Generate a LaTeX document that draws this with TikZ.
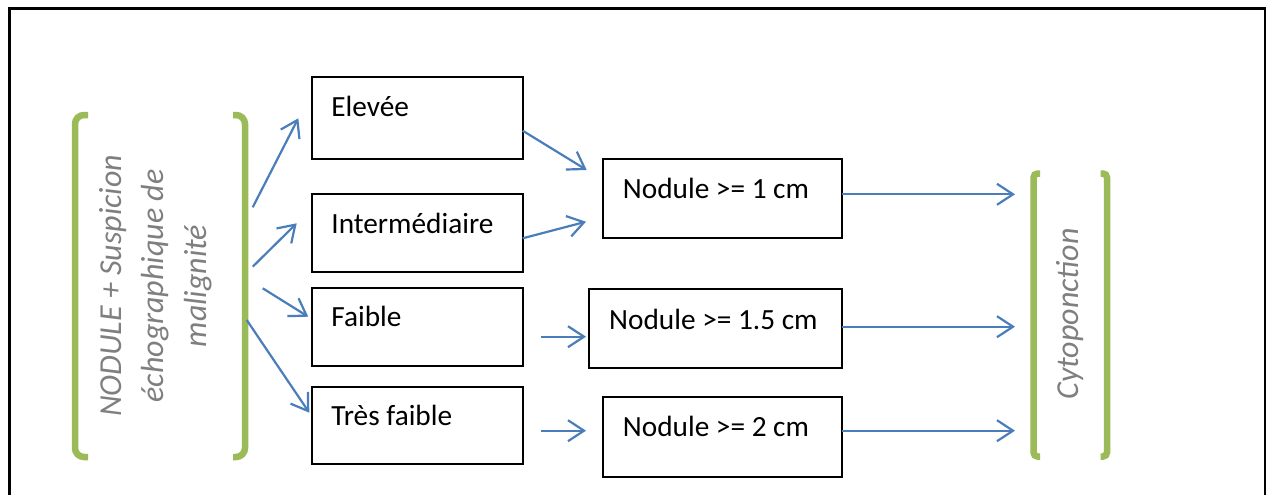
\documentclass[tikz,border=0pt]{standalone}
\usepackage{fontspec}
\setmainfont{Carlito}
\usetikzlibrary{arrows.meta}
\definecolor{ogreen}{HTML}{9BBB59}
\definecolor{oblue}{HTML}{4A7EBB}
\definecolor{ogray}{HTML}{7F7F7F}
\begin{document}
\begin{tikzpicture}[x=1pt,y=-1pt,
  box/.style={draw=black, line width=2pt, inner sep=0pt, outer sep=0pt, anchor=north west},
  lbl/.style={anchor=base west, inner sep=0pt, font=\fontsize{29.3}{35}\selectfont},
  arr/.style={draw=oblue, line width=2.2pt, -{Straight Barb[length=16pt,width=21pt,line width=2.2pt]}},
  brk/.style={draw=ogreen, line width=6.5pt},
  vtxt/.style={rotate=90, anchor=base, inner sep=0pt, font=\fontsize{32}{43}\selectfont\itshape, text=ogray}]

\useasboundingbox (0,0) rectangle (1266,495);
\fill[white] (0,0) rectangle (1266,495);
\draw[line width=3pt] (9,497) -- (9,9) -- (1265.5,9) -- (1265.5,497);

% left brackets and text
\draw[brk, rounded corners=9pt] (88,115) -- (75,115) -- (75,457) -- (88,457);
\draw[brk, rounded corners=9pt] (233,115) -- (245,115) -- (245,457) -- (233,457);
\node[vtxt] (t1) at (121,286) {NODULE + Suspicion};
\node[vtxt] (t2) at (163.3,286) {échographique de};
\node[vtxt] (t3) at (206.7,286) {malignité};

% right brackets and text
\draw[brk, rounded corners=4pt] (1040,173.5) -- (1033.5,173.5) -- (1033.5,456.5) -- (1040,456.5);
\draw[brk, rounded corners=4pt] (1100.5,173.5) -- (1107,173.5) -- (1107,456.5) -- (1100.5,456.5);
\node[vtxt] (cyto) at (1078,314) {Cytoponction};

% boxes
\node[box, minimum width=211.6pt, minimum height=82pt] (elev) at (311.7,77.3) {};
\node[box, minimum width=211.6pt, minimum height=77.7pt] (inter) at (311.7,194) {};
\node[box, minimum width=211.6pt, minimum height=77.7pt] (faib) at (311.7,288.3) {};
\node[box, minimum width=211.6pt, minimum height=77.3pt] (tfaib) at (311.7,386.7) {};
\node[box, minimum width=239pt, minimum height=79pt] (n1) at (602.7,159.3) {};
\node[box, minimum width=252.7pt, minimum height=79pt] (n15) at (589,289) {};
\node[box, minimum width=239pt, minimum height=79.7pt] (n2) at (602.7,397) {};

\node[lbl] (elevT) at ([shift={(19.5,38.8)}]elev.north west) {Elevée};
\node[lbl] (interT) at ([shift={(19.5,39.3)}]inter.north west) {Intermédiaire};
\node[lbl] (faibT) at ([shift={(19.5,38.5)}]faib.north west) {Faible};
\node[lbl] (tfaibT) at ([shift={(19.5,38.3)}]tfaib.north west) {Très faible};
\node[lbl] (n1T) at ([shift={(20,39)}]n1.north west) {Nodule >= 1 cm};
\node[lbl] (n15T) at ([shift={(20,40)}]n15.north west) {Nodule >= 1.5 cm};
\node[lbl] (n2T) at ([shift={(20,39.7)}]n2.north west) {Nodule >= 2 cm};

% arrow end points
\coordinate (a1s) at (252.7,207.3); \coordinate (a1e) at (298.3,118.3);
\coordinate (a2s) at (252.7,266.7); \coordinate (a2e) at (296.7,223.3);
\coordinate (a3s) at (262.7,288.3); \coordinate (a3e) at (308.3,316.7);
\coordinate (a4s) at (246.7,320);   \coordinate (a4e) at (309.3,412.7);
\coordinate (b1s) at (522.7,130.7); \coordinate (b1e) at (586.7,170);
\coordinate (b2s) at (522.7,238.3); \coordinate (b2e) at (586,221.7);
\coordinate (b3s) at (540.7,336.7); \coordinate (b3e) at (586,336.7);
\coordinate (b4s) at (540.7,430.7); \coordinate (b4e) at (586,430.7);
\coordinate (c1s) at (841.7,194.3); \coordinate (c1e) at (1015,194.3);
\coordinate (c2s) at (841.7,326.7); \coordinate (c2e) at (1015,326.7);
\coordinate (c3s) at (841.7,430.7); \coordinate (c3e) at (1015,430.7);

\draw[arr] (a1s) -- (a1e);
\draw[arr] (a2s) -- (a2e);
\draw[arr] (a3s) -- (a3e);
\draw[arr] (a4s) -- (a4e);
\draw[arr] (b1s) -- (b1e);
\draw[arr] (b2s) -- (b2e);
\draw[arr] (b3s) -- (b3e);
\draw[arr] (b4s) -- (b4e);
\draw[arr] (c1s) -- (c1e);
\draw[arr] (c2s) -- (c2e);
\draw[arr] (c3s) -- (c3e);
\end{tikzpicture}
\end{document}
